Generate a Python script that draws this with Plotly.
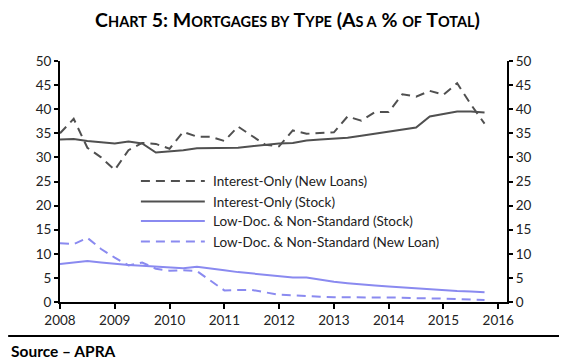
import plotly.graph_objects as go

quarters = [2008 + 0.25 * i for i in range(32)]

io_new = [35.0, 38.0, 32.0, 30.0, 27.4, 31.5, 33.0, 32.8, 31.8, 35.3, 34.3, 34.3,
          33.4, 36.4, 34.5, 32.6, 32.3, 35.6, 34.9, 35.0, 35.2, 38.5, 37.6, 39.4,
          39.4, 43.1, 42.6, 43.8, 43.0, 45.4, 41.0, 37.0]
io_stock = [33.7, 33.8, 33.4, 33.1, 32.9, 33.3, 32.9, 31.0, 31.2, 31.5, 31.9, 31.9,
            32.0, 32.0, 32.3, 32.6, 32.9, 33.0, 33.5, 33.7, 33.9, 34.1, 34.5, 34.9,
            35.3, 35.7, 36.2, 38.5, 39.0, 39.5, 39.5, 39.3]
ld_stock = [7.9, 8.2, 8.5, 8.2, 7.9, 7.7, 7.5, 7.3, 7.1, 7.0, 7.3, 7.0,
            6.6, 6.2, 5.9, 5.6, 5.3, 5.1, 5.1, 4.6, 4.2, 3.9, 3.6, 3.4,
            3.2, 3.0, 2.8, 2.6, 2.4, 2.3, 2.2, 2.0]
ld_new = [12.2, 12.0, 13.3, 11.0, 9.2, 7.6, 8.2, 6.9, 6.5, 6.6, 6.4, 4.4,
          2.4, 2.5, 2.5, 2.0, 1.5, 1.4, 1.2, 1.1, 1.0, 1.0, 0.9, 0.9,
          0.9, 0.9, 0.8, 0.8, 0.7, 0.6, 0.5, 0.4]

names = ["Interest-Only (New Loans)", "Interest-Only (Stock)",
         "Low-Doc. & Non-Standard (Stock)", "Low-Doc. & Non-Standard (New Loan)"]
y_ticks = [0, 5, 10, 15, 20, 25, 30, 35, 40, 45, 50]
x_ticks = list(range(2008, 2017))

GRAY = "#505050"
BLUE = "#8a8af0"
DASH = "9px,6px"
FONT = "Lato"

series = [
    (io_new, GRAY, DASH),
    (io_stock, GRAY, "solid"),
    (ld_stock, BLUE, "solid"),
    (ld_new, BLUE, DASH),
]

fig = go.Figure()
for (vals, col, dash), nm in zip(series, names):
    fig.add_trace(go.Scatter(x=quarters, y=vals, mode="lines", name=nm,
                             line=dict(color=col, width=2, dash=dash),
                             showlegend=False))
# invisible trace to activate the right axis
fig.add_trace(go.Scatter(x=quarters, y=io_stock, yaxis="y2", mode="lines",
                         line=dict(width=0), opacity=0, showlegend=False,
                         hoverinfo="skip"))

# custom legend
rows_y = [0.502, 0.417, 0.336, 0.251]
for (vals, col, dash), nm, ry in zip(series, names, rows_y):
    fig.add_shape(type="line", xref="paper", yref="paper", x0=0.181, x1=0.324,
                  y0=ry, y1=ry, line=dict(color=col, width=2, dash=dash))
    fig.add_annotation(xref="paper", yref="paper", x=0.338, y=ry, text=nm,
                       showarrow=False, xanchor="left", yanchor="middle",
                       font=dict(family=FONT, size=13.5, color="#222"))

# bottom rule and source
fig.add_shape(type="line", xref="paper", yref="paper", x0=-0.116, x1=1.125,
              y0=-0.141, y1=-0.141, line=dict(color="black", width=2))
fig.add_annotation(xref="paper", yref="paper", x=-0.114, y=-0.203,
                   text="<b>Source – APRA</b>", showarrow=False,
                   xanchor="left", yanchor="middle",
                   font=dict(family=FONT, size=15.5, color="black"))

def sc(s):
    return f"<span style='font-size:14.5px'>{s}</span>"

title = ("<b>C" + sc("HART") + " 5: M" + sc("ORTGAGES BY") + " T" + sc("YPE")
         + " (A" + sc("S A") + " % " + sc("OF") + " T" + sc("OTAL") + ")</b>")

axis_common = dict(showline=True, linecolor="black", linewidth=2, ticks="outside",
                   tickcolor="black", tickwidth=2, showgrid=False, zeroline=False,
                   tickfont=dict(family=FONT, size=13.5, color="#222"))

fig.update_layout(
    width=559, height=355,
    margin=dict(l=52, r=60, t=53, b=61),
    paper_bgcolor="white", plot_bgcolor="white",
    title=dict(text=title, x=0.5, xanchor="center", y=1 - 12 / 355, yanchor="middle",
               font=dict(family=FONT, size=19.5, color="black")),
    xaxis=dict(range=[2008, 2016.16], tickvals=x_ticks, ticklen=5, **axis_common),
    yaxis=dict(range=[0, 50], tickvals=y_ticks, ticklen=4, **axis_common),
    yaxis2=dict(range=[0, 50], tickvals=y_ticks, ticklen=4, overlaying="y",
                side="right", **axis_common),
    showlegend=False,
)

fig.write_html("out.html")
